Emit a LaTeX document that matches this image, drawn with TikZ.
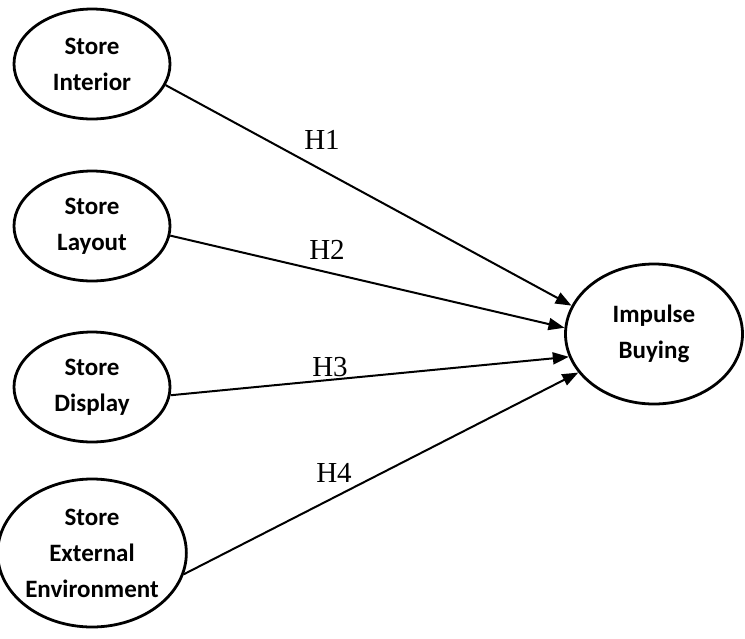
\documentclass[tikz,border=0pt]{standalone}
\usepackage{fontspec}
\setmainfont{Carlito}
\newfontfamily\hfont{Liberation Serif}
\usetikzlibrary{shapes.geometric,arrows.meta}
\begin{document}
\begin{tikzpicture}[x=1pt,y=1pt,
  ell/.style={ellipse,draw,line width=2.8pt,inner sep=0pt,align=center,font=\fontsize{25}{36}\selectfont\bfseries},
  arr/.style={line width=2pt,-{Triangle[length=16pt,width=12pt]}},
  hl/.style={font=\hfont\fontsize{29}{32}\selectfont}]
\useasboundingbox (0,0) rectangle (745,-638);
\node[ell,minimum width=156pt,minimum height=110pt] (si) at (92,-64) {Store\\Interior};
\node[ell,minimum width=156pt,minimum height=110pt] (sl) at (92,-226) {Store\\Layout};
\node[ell,minimum width=156pt,minimum height=110pt] (sd) at (92,-387) {Store\\Display};
\node[ell,minimum width=172pt,minimum height=148pt] (se) at (92,-553) {Store\\External\\Environment};
\node[ell,minimum width=177pt,minimum height=140pt] (ib) at (654,-334) {Impulse\\Buying};
\draw[arr] (si.-16) -- (ib.161);
\draw[arr] (sl.-7) -- (ib.176);
\draw[arr] (sd.-6) -- (ib.195);
\draw[arr] (se.-13) -- (ib.207);
\node[hl] (h1) at (322,-140) {H1};
\node[hl] (h2) at (327,-250) {H2};
\node[hl] (h3) at (330,-367) {H3};
\node[hl] (h4) at (334,-473) {H4};
\end{tikzpicture}
\end{document}
